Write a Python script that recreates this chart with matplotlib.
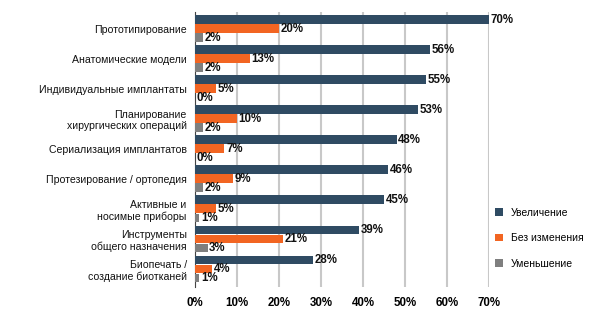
import numpy as np
import matplotlib
matplotlib.use("Agg")
import matplotlib.pyplot as plt
from matplotlib.patches import Patch

# --- данные ---
categories = [
    "Прототипирование",
    "Анатомические модели",
    "Индивидуальные имплантаты",
    "Планирование\nхирургических операций",
    "Сериализация имплантатов",
    "Протезирование / ортопедия",
    "Активные и\nносимые приборы",
    "Инструменты\nобщего назначения",
    "Биопечать /\nсоздание биотканей",
]
increase = [70, 56, 55, 53, 48, 46, 45, 39, 28]
no_change = [20, 13, 5, 10, 7, 9, 5, 21, 4]
decrease = [2, 2, 0, 2, 0, 2, 1, 3, 1]
series_names = ["Увеличение", "Без изменения", "Уменьшение"]
x_ticks = [0, 10, 20, 30, 40, 50, 60, 70]

colors = ["#2f4b63", "#f26522", "#7f7f7f"]

plt.rcParams['font.family'] = ['Liberation Sans', 'DejaVu Sans']
narrow = ['Liberation Sans Narrow', 'Liberation Sans', 'DejaVu Sans']
val_font = dict(family=narrow, weight='bold', size=8.3, color='#111111')

fig = plt.figure(figsize=(6.0, 3.23), dpi=100)
ax = fig.add_axes([195 / 600, 1 - 287 / 323, (489 - 195) / 600, 275 / 323])

y = np.arange(len(categories))
h = 0.3
for k, (vals, col) in enumerate(zip([increase, no_change, decrease], colors)):
    pos = y + (k - 1) * h
    ax.barh(pos, vals, height=h * 0.97, color=col, zorder=3)
    for p, v in zip(pos, vals):
        ax.text(v + 0.4, p, f"{v}%", va='center', ha='left', zorder=4, **val_font)

ax.set_xlim(0, 70)
ax.set_ylim(8.6, -0.55)
ax.set_xticks(x_ticks)
ax.set_xticklabels([f"{t}%" for t in x_ticks])
for lbl in ax.get_xticklabels():
    lbl.set_fontfamily(narrow)
    lbl.set_fontweight('bold')
    lbl.set_fontsize(8.3)
ax.set_yticks(y)
ax.set_yticklabels(categories, fontsize=7.6, color='#111111')
ax.tick_params(axis='both', length=0)
ax.tick_params(axis='y', pad=6)
ax.tick_params(axis='x', pad=7)

ax.grid(axis='x', color='#c8c8c8', lw=1.5, zorder=0)
for s in ['top', 'right', 'bottom']:
    ax.spines[s].set_visible(False)
ax.spines['left'].set_color('#444444')
ax.spines['left'].set_linewidth(0.8)

handles = [Patch(facecolor=c, label=n) for c, n in zip(colors, series_names)]
fig.legend(handles=handles, loc='upper left', bbox_to_anchor=(0.818, 0.37),
           frameon=False, fontsize=7.5, handlelength=0.75, handleheight=0.75,
           handletextpad=0.8, labelspacing=1.5, borderaxespad=0)

fig.savefig("out.png", dpi=100, facecolor='white')
